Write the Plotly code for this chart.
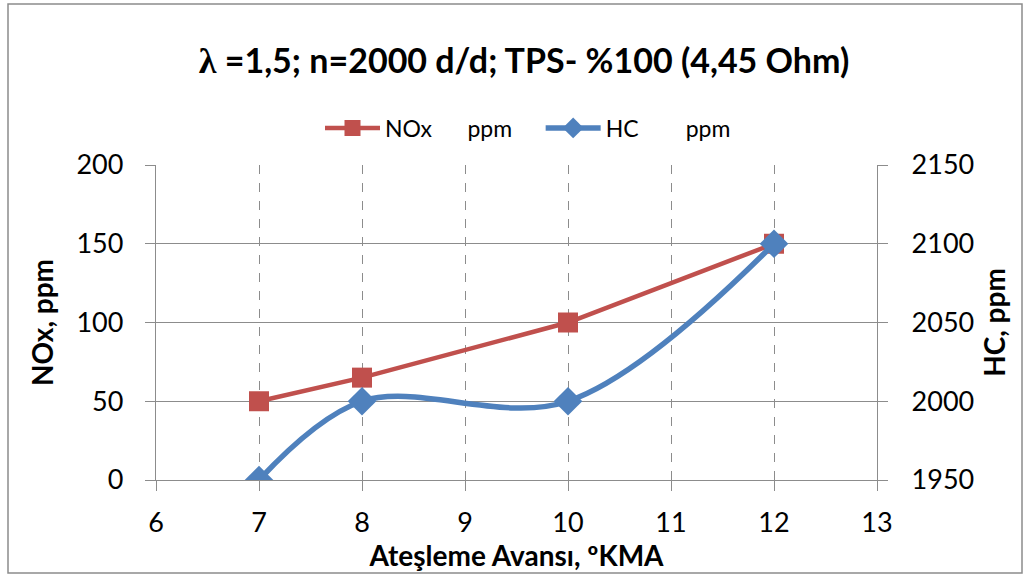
import plotly.graph_objects as go

# Ignition advance (°KMA)
advance = [7, 8, 10, 12]
nox_ppm = [50, 65, 100, 150]
hc_ppm = [1950, 2000, 2000, 2100]

x_ticks = [6, 7, 8, 9, 10, 11, 12, 13]
nox_ticks = [0, 50, 100, 150, 200]
hc_ticks = [1950, 2000, 2050, 2100, 2150]

W, H = 1029, 577
L, R, T, B = 156, 152, 165, 97
FONT = "Lato, 'Open Sans', sans-serif"
GRID = "#8c8c8c"
RED = "#C0504D"
BLUE = "#4F81BD"
TICK_SIZE = 27
AXIS_TITLE_SIZE = 28
NB = "\u00a0"

fig = go.Figure()
fig.add_trace(go.Scatter(
    x=advance, y=nox_ppm, name="NOx" + NB * 6 + "ppm" + NB * 4,
    mode="lines+markers",
    line=dict(color=RED, width=4.5),
    marker=dict(symbol="square", size=20, color=RED),
))
fig.add_trace(go.Scatter(
    x=advance, y=hc_ppm, name="HC" + NB * 8 + "ppm",
    mode="lines+markers", yaxis="y2",
    line=dict(color=BLUE, width=5.5, shape="spline", smoothing=1.0),
    marker=dict(symbol="diamond", size=22, color=BLUE),
))

pw = W - L - R
ph = H - T - B


def px(xp):
    return (xp - L) / pw


def py(yp):
    return (H - B - yp) / ph


# outer frame of the chart
fig.add_shape(type="rect", xref="paper", yref="paper",
              x0=px(8), x1=px(1022), y0=py(573), y1=py(4),
              line=dict(color="#8c8c8c", width=1.5), layer="below")

title_text = ("<b><span style=\"font-family:Liberation Serif;font-size:36px\">λ</span>"
              " =1,5; n=2000 d/d; TPS- %100 (4,45 Ohm)</b>")

fig.update_layout(
    width=W, height=H,
    margin=dict(l=L, r=R, t=T, b=B),
    paper_bgcolor="white", plot_bgcolor="white",
    font=dict(family=FONT, size=TICK_SIZE, color="black"),
    title=dict(text=title_text,
               x=524 / W, xref="container",
               xanchor="center", y=1 - 61 / H, yanchor="middle",
               font=dict(size=34, family=FONT)),
    legend=dict(orientation="h", x=px(528), xanchor="center",
                y=py(128), yanchor="middle",
                font=dict(size=23, family=FONT), itemwidth=55,
                bgcolor="rgba(0,0,0,0)"),
    xaxis=dict(
        range=[6, 13], tickvals=x_ticks, ticktext=[str(v) for v in x_ticks],
        showgrid=True, gridcolor=GRID, griddash="dash", gridwidth=1.4,
        showline=True, linecolor=GRID, linewidth=1.4, zeroline=False,
        ticks="outside", ticklen=10, tickcolor=GRID, tickwidth=1.4,
        tickfont=dict(size=TICK_SIZE), ticklabelstandoff=8,
        title=dict(text="<b>Ateşleme Avansı, ºKMA</b>",
                   font=dict(size=AXIS_TITLE_SIZE), standoff=0),
    ),
    yaxis=dict(
        range=[0, 200], tickvals=nox_ticks,
        showgrid=True, gridcolor=GRID, gridwidth=1.4,
        showline=True, linecolor=GRID, linewidth=1.4, zeroline=False,
        ticks="outside", ticklen=10, tickcolor=GRID, tickwidth=1.4,
        tickfont=dict(size=TICK_SIZE), ticklabelstandoff=16,
        title=dict(text="<b>NOx, ppm</b>", font=dict(size=AXIS_TITLE_SIZE), standoff=14),
    ),
    yaxis2=dict(
        range=[1950, 2150], tickvals=hc_ticks, overlaying="y", side="right",
        showgrid=False,
        showline=True, linecolor=GRID, linewidth=1.4, zeroline=False,
        ticks="outside", ticklen=10, tickcolor=GRID, tickwidth=1.4,
        tickfont=dict(size=TICK_SIZE), ticklabelstandoff=18,
        title=dict(text="<b>HC, ppm</b>", font=dict(size=AXIS_TITLE_SIZE), standoff=12),
    ),
)

fig.write_html("out.html")
